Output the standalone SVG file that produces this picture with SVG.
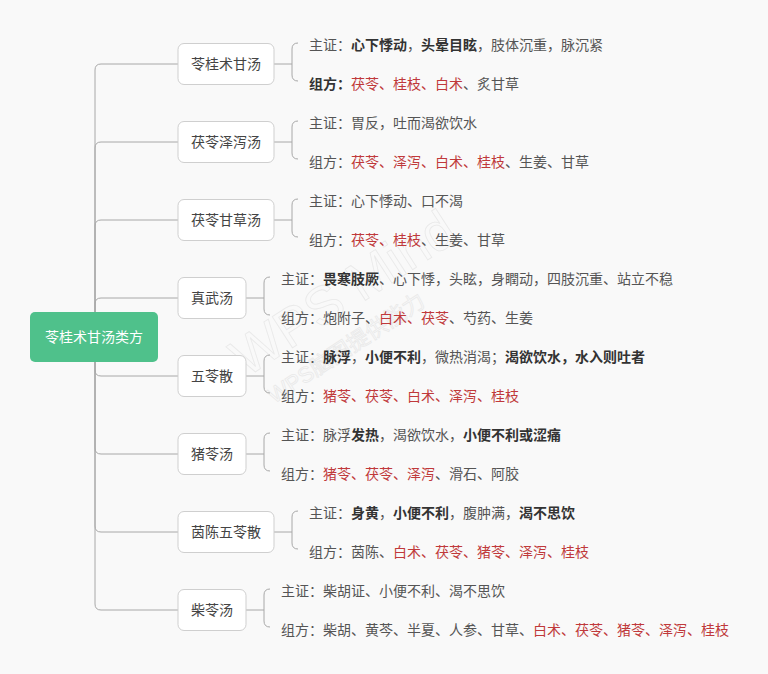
<svg xmlns="http://www.w3.org/2000/svg" width="768" height="674" viewBox="0 0 768 674">
<style>
.bg{fill:#f9f9f9}
.ln{fill:none;stroke:#a8a8a8;stroke-width:1}
.box{fill:#ffffff;stroke:#cfcfcf;stroke-width:1}
.root{fill:#4fc18b}
.t{font-family:"Noto Sans CJK SC","Microsoft YaHei",sans-serif;font-size:14px;fill:#555555}
.c{text-anchor:middle;fill:#444444}
.rt{font-family:"Noto Sans CJK SC",sans-serif;font-size:14px;fill:#ffffff;text-anchor:middle}
.b{font-weight:bold;fill:#333333}
.r{fill:#c0393b}
.wm{font-family:"Liberation Sans","Noto Sans CJK SC",sans-serif;fill:none;stroke:#e9e9e9;stroke-width:0.8}
</style>
<rect class="bg" x="0" y="0" width="768" height="674"/>
<g id="watermark">
<text class="wm" x="0" y="0" font-size="54" transform="translate(246,378) rotate(-33)">WPS Mind</text>
<text class="wm" x="0" y="0" font-size="22" transform="translate(274,404) rotate(-33)">WPS脑图提供能力</text>
</g>
<g id="connectors">
<path class="ln" d="M95,337 V70 Q95,64 101,64 H178"/>
<path class="ln" d="M95,337 V148 Q95,142 101,142 H178"/>
<path class="ln" d="M95,337 V226 Q95,220 101,220 H178"/>
<path class="ln" d="M95,337 V304 Q95,298 101,298 H178"/>
<path class="ln" d="M95,337 V370 Q95,376 101,376 H178"/>
<path class="ln" d="M95,337 V448 Q95,454 101,454 H178"/>
<path class="ln" d="M95,337 V526 Q95,532 101,532 H178"/>
<path class="ln" d="M95,337 V604 Q95,610 101,610 H178"/>
<path class="ln" d="M274,64 H292 M298,43 Q292,43 292,49 V75 Q292,81 298,81"/>
<path class="ln" d="M274,142 H292 M298,121 Q292,121 292,127 V153 Q292,159 298,159"/>
<path class="ln" d="M274,220 H292 M298,199 Q292,199 292,205 V231 Q292,237 298,237"/>
<path class="ln" d="M246,298 H264 M270,277 Q264,277 264,283 V309 Q264,315 270,315"/>
<path class="ln" d="M246,376 H264 M270,355 Q264,355 264,361 V387 Q264,393 270,393"/>
<path class="ln" d="M246,454 H264 M270,433 Q264,433 264,439 V465 Q264,471 270,471"/>
<path class="ln" d="M274,532 H292 M298,511 Q292,511 292,517 V543 Q292,549 298,549"/>
<path class="ln" d="M246,610 H264 M270,589 Q264,589 264,595 V621 Q264,627 270,627"/>
</g>
<g id="root">
<rect class="root" x="30" y="312" width="128" height="50" rx="5"/>
<text class="rt" x="94" y="342">苓桂术甘汤类方</text>
</g>
<g id="n1">
<rect class="box" x="178" y="43.5" width="96" height="41" rx="6"/>
<text class="t c" x="226" y="69">苓桂术甘汤</text>
<text class="t" x="309" y="50">主证：<tspan class="b">心下悸动</tspan>，<tspan class="b">头晕目眩</tspan>，肢体沉重，脉沉紧</text>
<text class="t" x="309" y="89"><tspan class="b">组方：</tspan><tspan class="r">茯苓、桂枝、白术</tspan>、炙甘草</text>
</g>
<g id="n2">
<rect class="box" x="178" y="121.5" width="96" height="41" rx="6"/>
<text class="t c" x="226" y="147">茯苓泽泻汤</text>
<text class="t" x="309" y="128">主证：胃反，吐而渴欲饮水</text>
<text class="t" x="309" y="167">组方：<tspan class="r">茯苓、泽泻、白术、桂枝</tspan>、生姜、甘草</text>
</g>
<g id="n3">
<rect class="box" x="178" y="199.5" width="96" height="41" rx="6"/>
<text class="t c" x="226" y="225">茯苓甘草汤</text>
<text class="t" x="309" y="206">主证：心下悸动、口不渴</text>
<text class="t" x="309" y="245">组方：<tspan class="r">茯苓、桂枝</tspan>、生姜、甘草</text>
</g>
<g id="n4">
<rect class="box" x="178" y="277.5" width="68" height="41" rx="6"/>
<text class="t c" x="212" y="303">真武汤</text>
<text class="t" x="281" y="284">主证：<tspan class="b">畏寒肢厥</tspan>、心下悸，头眩，身瞤动，四肢沉重、站立不稳</text>
<text class="t" x="281" y="323">组方：炮附子、<tspan class="r">白术、茯苓</tspan>、芍药、生姜</text>
</g>
<g id="n5">
<rect class="box" x="178" y="355.5" width="68" height="41" rx="6"/>
<text class="t c" x="212" y="381">五苓散</text>
<text class="t" x="281" y="362">主证：<tspan class="b">脉浮</tspan>，<tspan class="b">小便不利</tspan>，微热消渴；<tspan class="b">渴欲饮水，水入则吐者</tspan></text>
<text class="t" x="281" y="401">组方：<tspan class="r">猪苓、茯苓、白术、泽泻、桂枝</tspan></text>
</g>
<g id="n6">
<rect class="box" x="178" y="433.5" width="68" height="41" rx="6"/>
<text class="t c" x="212" y="459">猪苓汤</text>
<text class="t" x="281" y="440">主证：脉浮<tspan class="b">发热</tspan>，渴欲饮水，<tspan class="b">小便不利或涩痛</tspan></text>
<text class="t" x="281" y="479">组方：<tspan class="r">猪苓、茯苓、泽泻</tspan>、滑石、阿胶</text>
</g>
<g id="n7">
<rect class="box" x="178" y="511.5" width="96" height="41" rx="6"/>
<text class="t c" x="226" y="537">茵陈五苓散</text>
<text class="t" x="309" y="518">主证：<tspan class="b">身黄</tspan>，<tspan class="b">小便不利</tspan>，腹肿满，<tspan class="b">渴不思饮</tspan></text>
<text class="t" x="309" y="557">组方：茵陈、<tspan class="r">白术、茯苓、猪苓、泽泻、桂枝</tspan></text>
</g>
<g id="n8">
<rect class="box" x="178" y="589.5" width="68" height="41" rx="6"/>
<text class="t c" x="212" y="615">柴苓汤</text>
<text class="t" x="281" y="596">主证：柴胡证、小便不利、渴不思饮</text>
<text class="t" x="281" y="635">组方：柴胡、黄芩、半夏、人参、甘草、<tspan class="r">白术、茯苓、猪苓、泽泻、桂枝</tspan></text>
</g>
</svg>
